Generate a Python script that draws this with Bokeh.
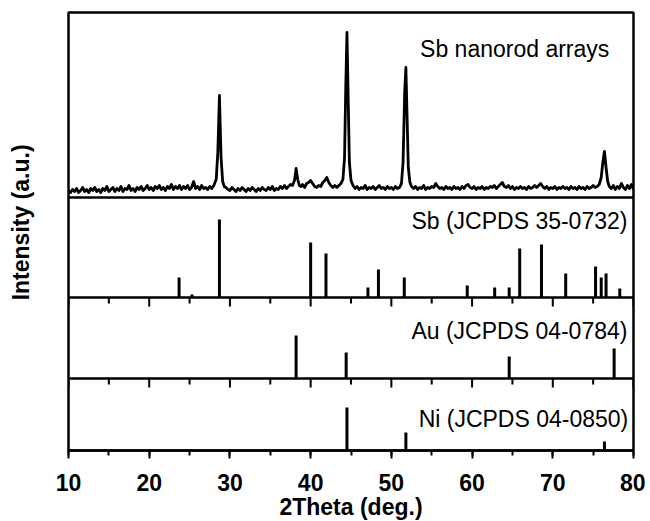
import math
from bokeh.plotting import figure
from bokeh.layouts import row
from bokeh.models import LinearAxis, SingleIntervalTicker, Range1d, Label, Span
from bokeh.embed import file_html
from bokeh.resources import INLINE

# ---------------- data ----------------
# Measured pattern (Sb nanorod arrays): (2theta, intensity a.u.)
xrd_points = [
    (10.0, 7), (10.25, 5), (10.5, 8), (10.75, 6), (11.0, 9), (11.25, 5),
    (11.5, 7), (11.75, 10), (12.0, 6), (12.25, 8), (12.5, 5), (12.75, 9),
    (13.0, 7), (13.25, 10), (13.5, 6), (13.75, 8), (14.0, 5), (14.25, 9),
    (14.5, 7), (14.75, 11), (15.0, 6), (15.25, 8), (15.5, 10), (15.75, 6),
    (16.0, 9), (16.25, 7), (16.5, 11), (16.75, 6), (17.0, 9), (17.25, 8),
    (17.5, 12), (17.75, 7), (18.0, 9), (18.25, 6), (18.5, 10), (18.75, 8),
    (19.0, 11), (19.25, 7), (19.5, 9), (19.75, 12), (20.0, 8), (20.25, 10),
    (20.5, 7), (20.75, 11), (21.0, 9), (21.25, 12), (21.5, 8), (21.75, 10),
    (22.0, 7), (22.25, 11), (22.5, 9), (22.75, 13), (23.0, 8), (23.25, 11),
    (23.5, 9), (23.75, 12), (24.0, 8), (24.25, 11), (24.5, 9), (24.75, 12),
    (25.0, 8), (25.25, 10), (25.5, 16), (25.75, 9), (26.0, 11), (26.25, 8),
    (26.5, 12), (26.75, 9), (27.0, 10), (27.25, 8), (27.5, 11), (27.75, 9),
    (28.0, 12), (28.3, 18), (28.5, 45), (28.7, 102), (28.9, 40), (29.1, 16),
    (29.3, 11), (29.5, 10), (29.75, 8), (30.0, 7), (30.25, 10), (30.5, 8),
    (30.75, 6), (31.0, 9), (31.25, 7), (31.5, 10), (31.75, 8), (32.0, 6),
    (32.25, 9), (32.5, 7), (32.75, 10), (33.0, 8), (33.25, 6), (33.5, 9),
    (33.75, 7), (34.0, 10), (34.25, 8), (34.5, 7), (34.75, 10), (35.0, 8),
    (35.25, 11), (35.5, 7), (35.75, 9), (36.0, 8), (36.25, 11), (36.5, 9),
    (36.75, 12), (37.0, 9), (37.25, 11), (37.5, 13), (37.75, 12), (38.0, 17),
    (38.2, 29), (38.4, 18), (38.6, 12), (38.8, 11), (39.0, 13), (39.25, 10),
    (39.5, 14), (39.75, 15), (40.0, 17), (40.25, 14), (40.5, 11), (40.75, 10),
    (41.0, 12), (41.25, 11), (41.5, 15), (41.75, 17), (42.0, 20), (42.25, 15),
    (42.5, 12), (42.75, 10), (43.0, 12), (43.25, 10), (43.5, 12), (43.75, 14),
    (44.0, 18), (44.2, 40), (44.35, 110), (44.5, 165), (44.65, 100), (44.8, 35),
    (45.0, 17), (45.25, 12), (45.5, 9), (45.75, 11), (46.0, 8), (46.25, 10),
    (46.5, 9), (46.75, 12), (47.0, 8), (47.25, 10), (47.5, 9), (47.75, 11),
    (48.0, 8), (48.25, 10), (48.5, 12), (48.75, 9), (49.0, 10), (49.25, 8),
    (49.5, 11), (49.75, 9), (50.0, 10), (50.25, 8), (50.5, 11), (50.75, 9),
    (51.0, 10), (51.25, 14), (51.45, 35), (51.65, 105), (51.8, 130), (51.95, 80),
    (52.1, 30), (52.3, 15), (52.5, 11), (52.75, 9), (53.0, 11), (53.25, 8),
    (53.5, 10), (53.75, 9), (54.0, 12), (54.25, 8), (54.5, 10), (54.75, 9),
    (55.0, 11), (55.25, 10), (55.5, 14), (55.75, 11), (56.0, 9), (56.25, 10),
    (56.5, 8), (56.75, 11), (57.0, 9), (57.25, 10), (57.5, 8), (57.75, 11),
    (58.0, 9), (58.25, 10), (58.5, 8), (58.75, 11), (59.0, 9), (59.25, 12),
    (59.5, 13), (59.75, 10), (60.0, 9), (60.25, 11), (60.5, 8), (60.75, 10),
    (61.0, 9), (61.25, 11), (61.5, 8), (61.75, 10), (62.0, 9), (62.25, 11),
    (62.5, 10), (62.75, 12), (63.0, 9), (63.25, 11), (63.5, 13), (63.75, 15),
    (64.0, 11), (64.25, 10), (64.5, 12), (64.75, 9), (65.0, 11), (65.25, 8),
    (65.5, 10), (65.75, 9), (66.0, 11), (66.25, 9), (66.5, 10), (66.75, 8),
    (67.0, 11), (67.25, 9), (67.5, 10), (67.75, 12), (68.0, 10), (68.25, 12),
    (68.5, 14), (68.75, 11), (69.0, 9), (69.25, 11), (69.5, 8), (69.75, 10),
    (70.0, 9), (70.25, 11), (70.5, 8), (70.75, 10), (71.0, 9), (71.25, 11),
    (71.5, 9), (71.75, 10), (72.0, 8), (72.25, 11), (72.5, 9), (72.75, 10),
    (73.0, 8), (73.25, 11), (73.5, 9), (73.75, 10), (74.0, 8), (74.25, 11),
    (74.5, 9), (74.75, 10), (75.0, 12), (75.25, 10), (75.5, 11), (75.75, 13),
    (76.0, 20), (76.2, 35), (76.4, 46), (76.6, 30), (76.8, 16), (77.0, 11),
    (77.25, 9), (77.5, 12), (77.75, 8), (78.0, 11), (78.25, 9), (78.5, 14),
    (78.75, 10), (79.0, 8), (79.25, 12), (79.5, 9), (79.75, 13), (80.0, 8),
]
xrd_two_theta = [pt[0] for pt in xrd_points]
xrd_intensity = [pt[1] for pt in xrd_points]

# Reference stick patterns (relative intensities)
sb_pos = [23.7, 25.3, 28.7, 40.0, 41.9, 47.1, 48.4, 51.6, 59.4, 62.8,
          64.6, 65.9, 68.6, 71.6, 75.3, 76.0, 76.6, 78.3]
sb_int = [20, 3, 78, 55, 44, 10, 28, 20, 12, 10,
          10, 49, 53, 24, 31, 20, 24, 9]

au_pos = [38.2, 44.4, 64.6, 77.6]
au_int = [43, 26, 22, 30]

ni_pos = [44.5, 51.8, 76.4]
ni_int = [43, 18, 9]

# x tick values (shared by every stacked layer)
major_ticks = [10.0, 20.0, 30.0, 40.0, 50.0, 60.0, 70.0, 80.0]
minor_ticks = [15.0, 25.0, 35.0, 45.0, 55.0, 65.0, 75.0]

labels = ["Sb nanorod arrays", "Sb (JCPDS 35-0732)",
          "Au (JCPDS 04-0784)", "Ni (JCPDS 04-0850)"]

# ---------------- layout of the stack (pixels) ----------------
FONT = "Liberation Sans"
FRAME_W = 565
BAND_H = {"ni": 72, "au": 81, "sb": 100, "xrd": 185}
ORDER = ["ni", "au", "sb", "xrd"]          # bottom -> top
TOTAL_H = sum(BAND_H.values())
band_bottom = {}
acc = 0
for k in ORDER:
    band_bottom[k] = acc
    acc += BAND_H[k]

p = figure(frame_width=FRAME_W, frame_height=TOTAL_H,
           x_range=Range1d(10, 80), y_range=Range1d(0, TOTAL_H),
           output_backend="svg", toolbar_location=None,
           x_axis_location=None, y_axis_location=None,
           min_border_left=20, min_border_right=12,
           min_border_top=12, min_border_bottom=0)
p.xgrid.visible = False
p.ygrid.visible = False
p.outline_line_color = "black"
p.outline_line_width = 2.5
p.background_fill_color = "white"
p.border_fill_color = "white"

# one 1-unit-per-pixel y range per stacked layer, zero at the bottom of its band
for k in ORDER:
    p.extra_y_ranges[k] = Range1d(-band_bottom[k], TOTAL_H - band_bottom[k])

# layer separators
for k in ["au", "sb", "xrd"]:
    p.add_layout(Span(location=band_bottom[k], dimension="width",
                      line_color="black", line_width=2.5))

# tick marks of the Sb and Au layers' x axes, hanging down from the separators
for k in ["au", "ni"]:
    top = float(BAND_H[k])
    p.vbar(x=major_ticks, width=0.25, bottom=top - 9.0, top=top,
           fill_color="black", line_color=None, y_range_name=k)
    p.vbar(x=minor_ticks, width=0.25, bottom=top - 6.0, top=top,
           fill_color="black", line_color=None, y_range_name=k)

# measured pattern
p.line(xrd_two_theta, xrd_intensity, line_color="black", line_width=2.8,
       line_join="round", y_range_name="xrd")

# reference sticks
for name, pos, inten in [("sb", sb_pos, sb_int), ("au", au_pos, au_int),
                         ("ni", ni_pos, ni_int)]:
    p.segment(x0=pos, y0=[0] * len(pos), x1=pos, y1=inten,
              line_color="black", line_width=3, y_range_name=name)

# layer captions
for name, x, y, text in [("xrd", 77.0, 149, labels[0]),
                         ("sb", 79.25, 77, labels[1]),
                         ("au", 79.25, 48, labels[2]),
                         ("ni", 79.35, 32, labels[3])]:
    p.add_layout(Label(x=x, y=y, y_range_name=name, text=text,
                       text_align="right", text_baseline="alphabetic",
                       text_font=FONT, text_font_size="23px",
                       text_color="black"))

bx = LinearAxis(ticker=SingleIntervalTicker(interval=10, num_minor_ticks=2),
                major_tick_in=0, major_tick_out=8,
                minor_tick_in=0, minor_tick_out=5,
                major_tick_line_width=2, minor_tick_line_width=2,
                axis_line_width=2.5,
                major_label_text_font=FONT, major_label_text_font_size="23px",
                major_label_text_font_style="bold", major_label_text_color="black",
                major_label_standoff=15,
                axis_label="2Theta (deg.)", axis_label_text_font=FONT,
                axis_label_text_font_size="23px",
                axis_label_text_font_style="bold", axis_label_text_color="black",
                axis_label_standoff=0)
p.add_layout(bx, "below")

# Y label figure
LH = 513
lab = figure(width=48, height=LH, x_range=Range1d(0, 48), y_range=Range1d(0, LH),
             output_backend="svg", toolbar_location=None,
             x_axis_location=None, y_axis_location=None,
             min_border=0, outline_line_color=None,
             border_fill_color="white", background_fill_color="white")
lab.xgrid.visible = False
lab.ygrid.visible = False
lab.add_layout(Label(x=20, y=LH - 251, text="Intensity (a.u.)", angle=math.pi / 2,
                     text_align="center", text_baseline="middle",
                     text_font=FONT, text_font_size="23px",
                     text_font_style="bold", text_color="black"))

layout = row(lab, p, spacing=0)

open("out.html", "w").write(file_html(layout, INLINE))
